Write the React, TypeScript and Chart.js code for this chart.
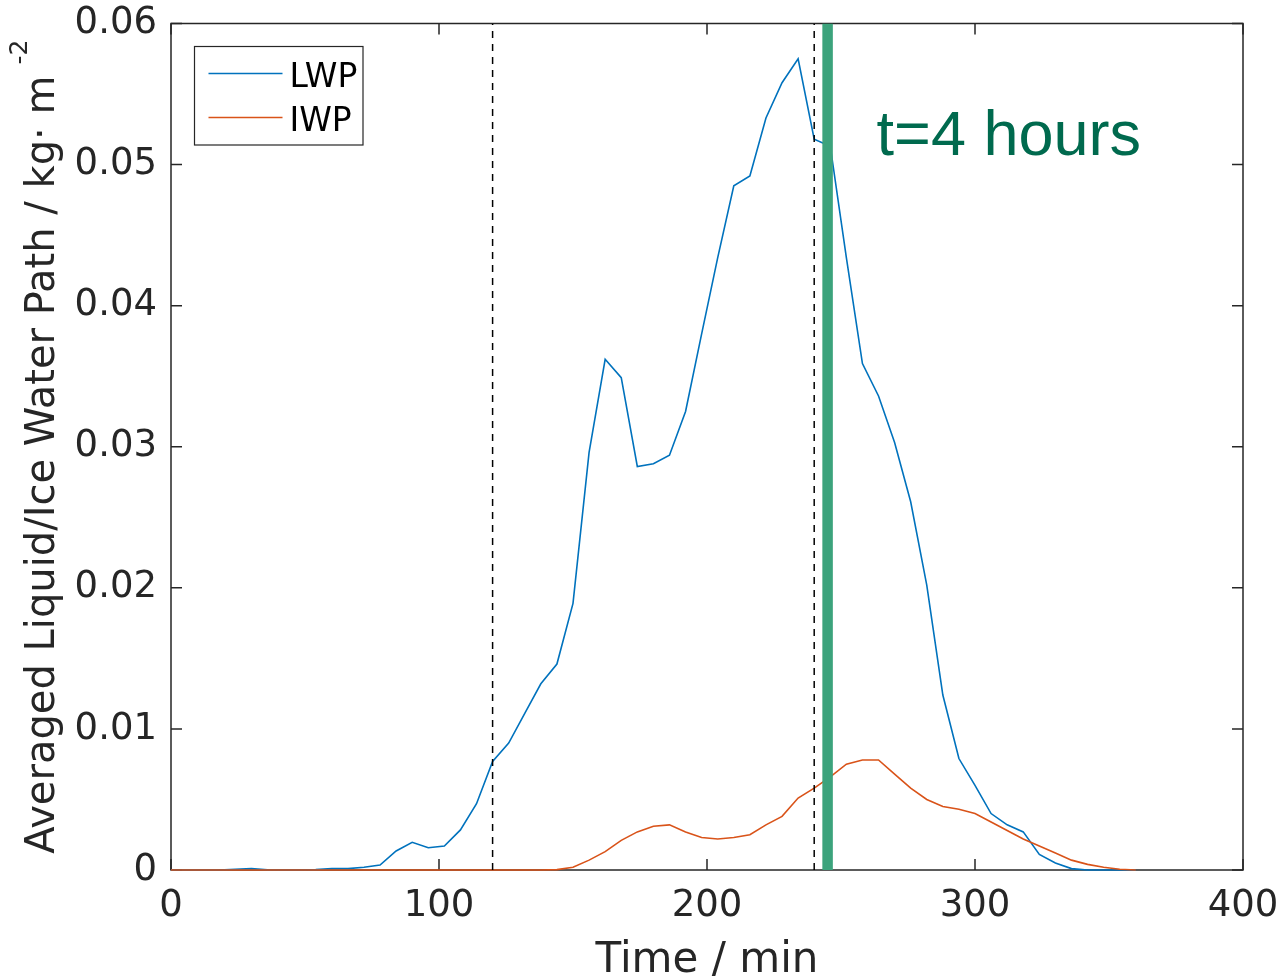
import React, { useEffect, useRef } from "react";
import { Chart, registerables } from "chart.js";

Chart.register(...registerables);

// ---- data ----
const times = [
  0, 6, 12, 18, 24, 30, 36, 42, 48, 54, 60, 66, 72, 78, 84, 90, 96, 102, 108, 114,
  120, 126, 132, 138, 144, 150, 156, 162, 168, 174, 180, 186, 192, 198, 204, 210,
  216, 222, 228, 234, 240, 246, 252, 258, 264, 270, 276, 282, 288, 294, 300, 306,
  312, 318, 324, 330, 336, 342, 348, 354, 360,
];

const lwp = [
  0, 0, 0, 0, 0.00005, 0.0001, 0.00002, 0, 0, 0.00003, 0.0001, 0.0001, 0.0002, 0.00035,
  0.00135, 0.00196, 0.00158, 0.0017, 0.00284, 0.0047, 0.0077, 0.009, 0.0111, 0.0132,
  0.0146, 0.0189, 0.0296, 0.0362, 0.0349, 0.0286, 0.0288, 0.0294, 0.0325, 0.038,
  0.0434, 0.0485, 0.0492, 0.0533, 0.0558, 0.0575, 0.0518, 0.0513, 0.0434, 0.0359,
  0.0336, 0.0303, 0.0261, 0.0202, 0.0124, 0.0079, 0.006, 0.004, 0.0032, 0.0027,
  0.0011, 0.0005, 0.0001, 0, 0, 0, 0,
];

const iwp = [
  0, 0, 0, 0, 0, 0, 0, 0, 0, 0, 0, 0, 0, 0, 0, 0, 0, 0, 0, 0, 0, 0, 0, 0,
  0.00003, 0.0002, 0.0007, 0.0013, 0.0021, 0.0027, 0.0031, 0.0032, 0.0027, 0.0023,
  0.0022, 0.0023, 0.0025, 0.0032, 0.0038, 0.0051, 0.0058, 0.0066, 0.0075, 0.0078,
  0.0078, 0.0068, 0.0058, 0.005, 0.0045, 0.0043, 0.004, 0.0034, 0.0028, 0.0022,
  0.0017, 0.0012, 0.0007, 0.0004, 0.0002, 0.00005, 0,
];

const seriesNames = ["LWP", "IWP"];
const markerTimes = [120, 240];
const highlightTime = 245;
const annotationText = "t=4 hours";
const xTicks = [0, 100, 200, 300, 400];
const yTicks = [0, 0.01, 0.02, 0.03, 0.04, 0.05, 0.06];
const xTitle = "Time / min";
const yTitle = "Averaged Liquid/Ice Water Path / kg\u00b7 m";
const yTitleSup = "-2";

// ---- styles ----
const BLUE = "#0072BD";
const ORANGE = "#D95319";
const AXIS = "#262626";
const GREEN_BAR = "#3CA37C";
const GREEN_TEXT = "#006A4E";
const FONT = "'DejaVu Sans', 'Open Sans', sans-serif";

const matlabPlugin = {
  id: "matlabDecor",
  beforeDatasetsDraw(chart: any) {
    const { ctx, chartArea: a, scales } = chart;
    const xs = scales.x;
    const ys = scales.y;
    ctx.save();
    // axes box
    ctx.strokeStyle = AXIS;
    ctx.lineWidth = 1.5;
    ctx.strokeRect(a.left, a.top, a.right - a.left, a.bottom - a.top);
    // inward ticks on all four sides
    const TL = 11;
    ctx.beginPath();
    xTicks.forEach((v) => {
      const px = xs.getPixelForValue(v);
      ctx.moveTo(px, a.bottom);
      ctx.lineTo(px, a.bottom - TL);
      ctx.moveTo(px, a.top);
      ctx.lineTo(px, a.top + TL);
    });
    yTicks.forEach((v) => {
      const py = ys.getPixelForValue(v);
      ctx.moveTo(a.left, py);
      ctx.lineTo(a.left + TL, py);
      ctx.moveTo(a.right, py);
      ctx.lineTo(a.right - TL, py);
    });
    ctx.stroke();
    ctx.restore();
  },
  afterDraw(chart: any) {
    const { ctx, chartArea: a, scales } = chart;
    const xs = scales.x;
    ctx.save();

    // annotation text
    ctx.fillStyle = GREEN_TEXT;
    ctx.font = "63px 'Liberation Sans', Arial, sans-serif";
    ctx.textAlign = "left";
    ctx.textBaseline = "alphabetic";
    ctx.fillText(annotationText, xs.getPixelForValue(highlightTime) + 49, a.top + 131);

    // legend
    const lx = a.left + 23.5;
    const ly = a.top + 23;
    const lw = 168.5;
    const lh = 98.5;
    ctx.fillStyle = "#ffffff";
    ctx.fillRect(lx, ly, lw, lh);
    ctx.strokeStyle = AXIS;
    ctx.lineWidth = 1.2;
    ctx.strokeRect(lx, ly, lw, lh);
    ctx.font = `33px ${FONT}`;
    ctx.textAlign = "left";
    ctx.textBaseline = "alphabetic";
    seriesNames.forEach((name, i) => {
      const ds = chart.data.datasets[i];
      const yy = ly + 27 + i * 44;
      ctx.strokeStyle = ds.borderColor;
      ctx.lineWidth = 1.6;
      ctx.beginPath();
      ctx.moveTo(lx + 14, yy);
      ctx.lineTo(lx + 88, yy);
      ctx.stroke();
      ctx.fillStyle = "#000000";
      ctx.fillText(name, lx + 95, yy + 13);
    });

    // x title
    ctx.fillStyle = AXIS;
    ctx.font = `42px ${FONT}`;
    ctx.textAlign = "center";
    ctx.fillText(xTitle, (a.left + a.right) / 2, a.bottom + 102);

    // y title with superscript
    ctx.font = `40px ${FONT}`;
    const w = ctx.measureText(yTitle).width;
    ctx.font = `25px ${FONT}`;
    const ws = ctx.measureText(yTitleSup).width;
    const gap = 11;
    const total = w + gap + ws;
    const cy = (a.top + a.bottom) / 2;
    ctx.translate(54, cy + total / 2);
    ctx.rotate(-Math.PI / 2);
    ctx.textAlign = "left";
    ctx.font = `40px ${FONT}`;
    ctx.fillText(yTitle, 0, 0);
    ctx.font = `25px ${FONT}`;
    ctx.fillText(yTitleSup, w + gap, -27);

    ctx.restore();
  },
};

export default function App() {
  const ref = useRef<HTMLCanvasElement | null>(null);

  useEffect(() => {
    if (!ref.current) return;
    const pts = (vals: number[]) => times.map((t, i) => ({ x: t, y: vals[i] }));
    const vline = (t: number) => [
      { x: t, y: yTicks[0] },
      { x: t, y: yTicks[yTicks.length - 1] },
    ];
    const chart = new Chart(ref.current, {
      type: "line",
      data: {
        datasets: [
          {
            label: seriesNames[0],
            data: pts(lwp),
            borderColor: BLUE,
            borderWidth: 1.6,
            pointRadius: 0,
            tension: 0,
            clip: 3,
            order: 3,
          },
          {
            label: seriesNames[1],
            data: pts(iwp),
            borderColor: ORANGE,
            borderWidth: 1.6,
            pointRadius: 0,
            tension: 0,
            clip: 3,
            order: 2,
          },
          ...markerTimes.map((t) => ({
            label: `t=${t}`,
            data: vline(t),
            borderColor: "#000000",
            borderWidth: 1.5,
            borderDash: [7, 6],
            pointRadius: 0,
            order: 1,
          })),
          {
            label: "highlight",
            data: vline(highlightTime),
            borderColor: GREEN_BAR,
            borderWidth: 10.5,
            pointRadius: 0,
            borderCapStyle: "butt",
            order: 0,
          },
        ],
      },
      options: {
        animation: false,
        responsive: false,
        layout: { padding: { left: 0, top: 23.5, right: 39, bottom: 0 } },
        plugins: { legend: { display: false }, tooltip: { enabled: false } },
        scales: {
          x: {
            type: "linear",
            min: 0,
            max: 400,
            afterFit: (s: any) => {
              s.height = 110;
              s.paddingLeft = 0;
              s.paddingRight = 0;
            },
            grid: { display: false, drawTicks: false },
            border: { display: false },
            ticks: {
              stepSize: 100,
              padding: 14,
              color: AXIS,
              font: { family: FONT, size: 37 },
              maxRotation: 0,
            },
          },
          y: {
            type: "linear",
            min: 0,
            max: 0.06,
            afterFit: (s: any) => {
              s.width = 171;
              s.paddingTop = 0;
              s.paddingBottom = 0;
            },
            grid: { display: false, drawTicks: false },
            border: { display: false },
            ticks: {
              stepSize: 0.01,
              padding: 14,
              color: AXIS,
              font: { family: FONT, size: 37 },
              callback: (v: any) => (Number(v) === 0 ? "0" : Number(v).toFixed(2)),
            },
          },
        },
      },
      plugins: [matlabPlugin],
    } as any);
    return () => chart.destroy();
  }, []);

  return (
    <div style={{ position: "fixed", left: 0, top: 0, width: 1282, height: 980, background: "#fff" }}>
      <canvas ref={ref} width={1282} height={980} style={{ display: "block" }} />
    </div>
  );
}
